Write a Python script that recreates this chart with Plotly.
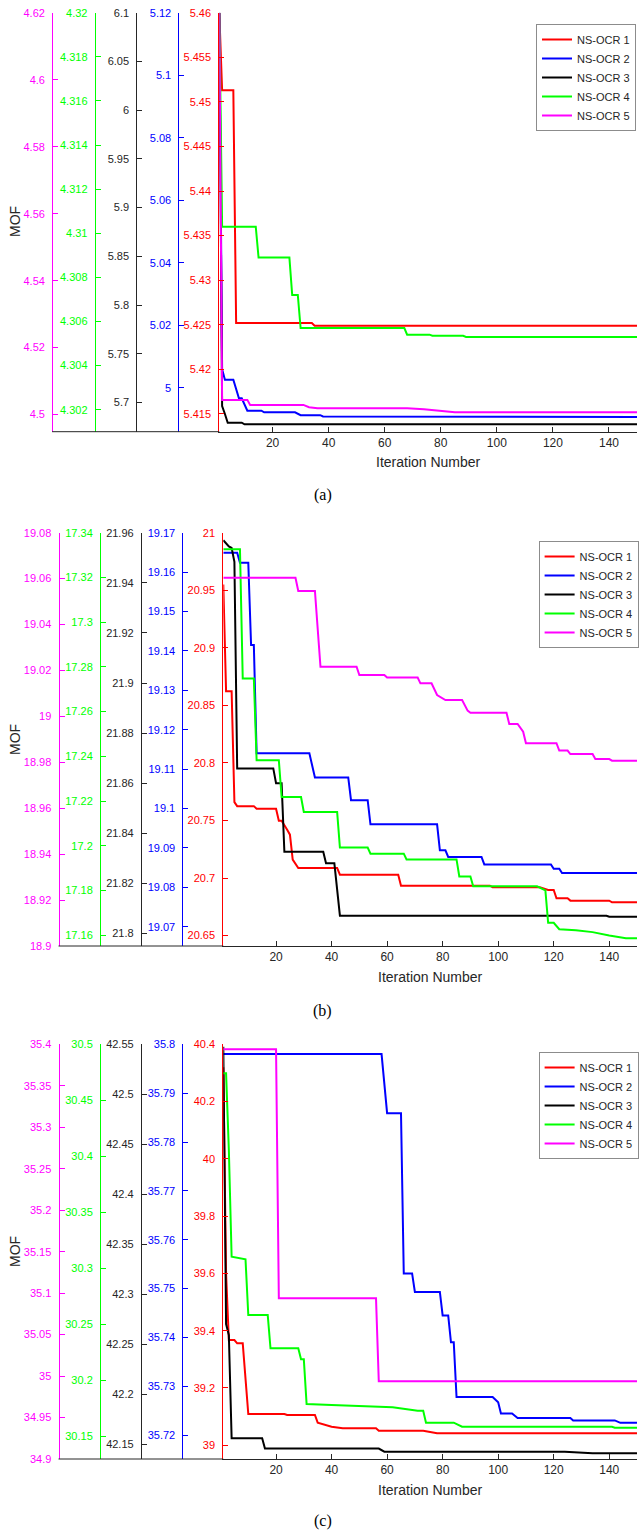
import plotly.graph_objects as go

W, H = 639, 1535

SERIES = ["NS-OCR 1", "NS-OCR 2", "NS-OCR 3", "NS-OCR 4", "NS-OCR 5"]
COLORS = ["#FF0000", "#0000FF", "#000000", "#00FF00", "#FF00FF"]
TEXT_COLORS = ["#FF0000", "#0000FF", "#262626", "#00FF00", "#FF00FF"]
X_TICKS = [20, 40, 60, 80, 100, 120, 140]
CAPTIONS = ["(a)", "(b)", "(c)"]

# ---------------- Panel (a) ----------------
a_red_x = [1, 2, 6, 7, 34, 35, 150]
a_red_y = [5.46, 5.4513, 5.4513, 5.4252, 5.4252, 5.4249, 5.4249]
a_blue_x = [1, 2, 3, 6, 8, 9, 11, 16, 17, 28, 30, 37, 38, 80, 81, 150]
a_blue_y = [5.12, 5.006, 5.0026, 5.0026, 4.9967, 4.9967, 4.9927, 4.9927, 4.9922, 4.9922,
            4.9913, 4.9913, 4.9909, 4.9909, 4.9907, 4.9907]
a_black_x = [1, 2, 3, 4, 9, 10, 150]
a_black_y = [6.1, 5.6964, 5.6882, 5.6792, 5.6792, 5.6776, 5.6776]
a_green_x = [1, 2, 14, 15, 26, 27, 29, 30, 67, 68, 76, 77, 88, 89, 150]
a_green_y = [4.32, 4.3103, 4.3103, 4.3089, 4.3089, 4.3072, 4.3072, 4.3057, 4.3057, 4.3054,
             4.3054, 4.30535, 4.30535, 4.3053, 4.3053]
a_magenta_x = [1, 2, 11, 12, 31, 33, 36, 68, 74, 80, 85, 150]
a_magenta_y = [4.62, 4.5044, 4.5044, 4.5029, 4.5029, 4.5022, 4.5019, 4.5019, 4.5016, 4.5011,
               4.5007, 4.5007]

a_red_ticks = [5.415, 5.42, 5.425, 5.43, 5.435, 5.44, 5.445, 5.45, 5.455, 5.46]
a_blue_ticks = [5.0, 5.02, 5.04, 5.06, 5.08, 5.1, 5.12]
a_black_ticks = [5.7, 5.75, 5.8, 5.85, 5.9, 5.95, 6.0, 6.05, 6.1]
a_green_ticks = [4.302, 4.304, 4.306, 4.308, 4.31, 4.312, 4.314, 4.316, 4.318, 4.32]
a_magenta_ticks = [4.5, 4.52, 4.54, 4.56, 4.58, 4.6, 4.62]

# ---------------- Panel (b) ----------------
b_red_x = [1, 2, 4, 5, 6, 12, 13, 20, 21, 22, 24, 25, 26, 28, 42, 43, 64, 65, 97, 98,
           115, 118, 120, 121, 125, 126, 140, 141, 150]
b_red_y = [20.955, 20.8622, 20.8622, 20.766, 20.7625, 20.7625, 20.7603, 20.7603, 20.7498,
           20.7498, 20.7420, 20.7377, 20.7160, 20.7088, 20.7088, 20.7029, 20.7029, 20.6934,
           20.6934, 20.6920, 20.6920, 20.6896, 20.6896, 20.6824, 20.6824, 20.6804, 20.6804,
           20.6790, 20.6790]
b_blue_x = [1, 6, 7, 10, 11, 12, 13, 32, 34, 46, 47, 53, 54, 78, 79, 81, 82, 94, 95, 119,
            120, 122, 123, 150]
b_blue_y = [19.1649, 19.1649, 19.1624, 19.1624, 19.1415, 19.1415, 19.1140, 19.1140, 19.1079,
            19.1079, 19.1021, 19.1021, 19.0960, 19.0960, 19.0894, 19.0894, 19.0877, 19.0877,
            19.0858, 19.0858, 19.0847, 19.0847, 19.0836, 19.0836]
b_black_x = [1, 3, 4, 5, 6, 19, 20, 22, 23, 37, 38, 41, 43, 139, 140, 150]
b_black_y = [21.957, 21.9545, 21.9539, 21.9484, 21.8659, 21.8659, 21.8600, 21.8600, 21.8326,
             21.8326, 21.8280, 21.8280, 21.8071, 21.8071, 21.8067, 21.8067]
b_green_x = [1, 7, 8, 12, 13, 21, 22, 29, 30, 42, 43, 53, 54, 66, 67, 85, 86, 90, 91, 114,
             117, 118, 120, 122, 128, 134, 140, 146, 150]
b_green_y = [17.3326, 17.3326, 17.2748, 17.2748, 17.2383, 17.2383, 17.2218, 17.2218, 17.2151,
             17.2151, 17.1992, 17.1992, 17.1965, 17.1965, 17.1939, 17.1939, 17.1863, 17.1863,
             17.1819, 17.1819, 17.1801, 17.1656, 17.1656, 17.1627, 17.1622, 17.1614, 17.1599,
             17.1587, 17.1587]
b_magenta_x = [1, 27, 28, 34, 36, 49, 50, 59, 60, 71, 72, 76, 78, 81, 87, 89, 90, 103, 104,
               107, 109, 110, 121, 122, 125, 126, 134, 135, 140, 141, 150]
b_magenta_y = [19.0604, 19.0604, 19.0546, 19.0546, 19.0216, 19.0216, 19.0180, 19.0180, 19.0169,
               19.0169, 19.0144, 19.0144, 19.0093, 19.0071, 19.0071, 19.0025, 19.0016, 19.0016,
               18.9967, 18.9967, 18.9933, 18.9883, 18.9883, 18.9851, 18.9851, 18.9836, 18.9836,
               18.9814, 18.9814, 18.9807, 18.9807]

b_red_ticks = [20.65, 20.7, 20.75, 20.8, 20.85, 20.9, 20.95, 21.0]
b_blue_ticks = [19.07, 19.08, 19.09, 19.1, 19.11, 19.12, 19.13, 19.14, 19.15, 19.16, 19.17]
b_black_ticks = [21.8, 21.82, 21.84, 21.86, 21.88, 21.9, 21.92, 21.94, 21.96]
b_green_ticks = [17.16, 17.18, 17.2, 17.22, 17.24, 17.26, 17.28, 17.3, 17.32, 17.34]
b_magenta_ticks = [18.9, 18.92, 18.94, 18.96, 18.98, 19.0, 19.02, 19.04, 19.06, 19.08]

# ---------------- Panel (c) ----------------
c_red_x = [1, 2, 3, 5, 6, 8, 10, 23, 24, 34, 35, 40, 44, 56, 57, 73, 78, 150]
c_red_y = [40.32, 39.60, 39.3675, 39.3675, 39.356, 39.356, 39.1091, 39.1091, 39.1056, 39.1056,
           39.0788, 39.0648, 39.0592, 39.0592, 39.0508, 39.0508, 39.0417, 39.0417]
c_blue_x = [1, 58, 60, 65, 66, 69, 70, 79, 80, 82, 83, 84, 85, 98, 100, 101, 105, 107, 126,
            127, 142, 144, 150]
c_blue_y = [35.798, 35.798, 35.7859, 35.7859, 35.7531, 35.7531, 35.7493, 35.7493, 35.7445,
            35.7445, 35.7390, 35.7390, 35.7278, 35.7278, 35.7267, 35.7244, 35.7244, 35.7235,
            35.7235, 35.7230, 35.7230, 35.7225, 35.7225]
c_black_x = [1, 2, 3, 4, 15, 16, 57, 59, 124, 134, 150]
c_black_y = [42.5476, 42.27, 42.259, 42.1557, 42.1557, 42.1455, 42.1455, 42.1423, 42.1423,
             42.1407, 42.1407]
c_green_x = [1, 2, 3, 4, 9, 10, 17, 18, 28, 29, 30, 31, 40, 50, 62, 71, 73, 74, 84, 87, 141,
             142, 150]
c_green_y = [30.4741, 30.4741, 30.4057, 30.3105, 30.3082, 30.2585, 30.2585, 30.2288, 30.2288,
             30.2190, 30.2190, 30.1791, 30.1782, 30.1773, 30.1761, 30.1731, 30.1731, 30.1624,
             30.1624, 30.1588, 30.1588, 30.1579, 30.1579]
c_magenta_x = [1, 20, 21, 56, 57, 150]
c_magenta_y = [35.394, 35.394, 35.0938, 35.0938, 34.9937, 34.9937]

c_red_ticks = [39.0, 39.2, 39.4, 39.6, 39.8, 40.0, 40.2, 40.4]
c_blue_ticks = [35.72, 35.73, 35.74, 35.75, 35.76, 35.77, 35.78, 35.79, 35.8]
c_black_ticks = [42.15, 42.2, 42.25, 42.3, 42.35, 42.4, 42.45, 42.5, 42.55]
c_green_ticks = [30.15, 30.2, 30.25, 30.3, 30.35, 30.4, 30.45, 30.5]
c_magenta_ticks = [34.9, 34.95, 35.0, 35.05, 35.1, 35.15, 35.2, 35.25, 35.3, 35.35, 35.4]

# ---------------- layout per panel (pixel positions) ----------------
def px(v):
    return v / W

def py(v):
    return 1 - v / H

panels = [
    dict(xs=[a_red_x, a_blue_x, a_black_x, a_green_x, a_magenta_x],
         ys=[a_red_y, a_blue_y, a_black_y, a_green_y, a_magenta_y],
         ticks=[a_red_ticks, a_blue_ticks, a_black_ticks, a_green_ticks, a_magenta_ticks],
         ranges=[[5.413, 5.46001], [4.986, 5.12001], [5.67, 6.10001], [4.301, 4.320002],
                 [4.4949, 4.62001]],
         top=12.7, bottom=431.7, left=220.0,
         axpos=[None, 179.0, 136.7, 95.0, 52.3],
         legend=(537.7, 24.0), caption_y=495.0, mof_y=221.0),
    dict(xs=[b_red_x, b_blue_x, b_black_x, b_green_x, b_magenta_x],
         ys=[b_red_y, b_blue_y, b_black_y, b_green_y, b_magenta_y],
         ticks=[b_red_ticks, b_blue_ticks, b_black_ticks, b_green_ticks, b_magenta_ticks],
         ranges=[[20.641, 21.00001], [19.0651, 19.17001], [21.795, 21.96001],
                 [17.1552, 17.34001], [18.89999, 19.08001]],
         top=532.7, bottom=946.0, left=224.0,
         axpos=[None, 183.0, 141.3, 100.3, 58.7],
         legend=(540.3, 541.0), caption_y=1011.0, mof_y=739.0),
    dict(xs=[c_red_x, c_blue_x, c_black_x, c_green_x, c_magenta_x],
         ys=[c_red_y, c_blue_y, c_black_y, c_green_y, c_magenta_y],
         ticks=[c_red_ticks, c_blue_ticks, c_black_ticks, c_green_ticks, c_magenta_ticks],
         ranges=[[38.952, 40.40001], [35.7151, 35.80001], [42.135, 42.55001],
                 [30.13, 30.50001], [34.89999, 35.40001]],
         top=1044.3, bottom=1459.0, left=224.0,
         axpos=[None, 183.0, 141.3, 100.3, 58.7],
         legend=(540.3, 1052.0), caption_y=1521.0, mof_y=1251.0),
]

FONT = "Liberation Sans, Arial, sans-serif"
fig = go.Figure()
layout = {}
shapes = []
annotations = []

for pi, p in enumerate(panels):
    xa = "x" if pi == 0 else f"x{pi + 1}"
    leg = "legend" if pi == 0 else f"legend{pi + 1}"
    base = pi * 5 + 1
    main_y = "y" if base == 1 else f"y{base}"
    ydom = [py(p["bottom"]), py(p["top"])]
    xdom = [px(p["left"]), 1.0]
    for s in range(5):
        yn = base + s
        ya = "y" if yn == 1 else f"y{yn}"
        fig.add_trace(go.Scatter(
            x=p["xs"][s], y=p["ys"][s], mode="lines", name=SERIES[s],
            line=dict(color=COLORS[s], width=2), xaxis=xa, yaxis=ya, legend=leg,
        ))
        ticks = p["ticks"][s]
        ax = dict(
            range=p["ranges"][s], tickmode="array", tickvals=ticks,
            ticktext=[f"{v:g}" for v in ticks],
            ticks="inside", ticklen=5, tickcolor=COLORS[s] if s != 2 else "#262626",
            showline=True, linecolor=COLORS[s] if s != 2 else "#262626", linewidth=1,
            tickfont=dict(family=FONT, size=11, color=TEXT_COLORS[s]),
            showgrid=False, zeroline=False, automargin=False, ticklabelstandoff=5,
        )
        if s == 0:
            ax.update(domain=ydom, anchor=xa)
        else:
            ax.update(overlaying=main_y, anchor="free", position=px(p["axpos"][s]), side="left")
        layout["yaxis" if yn == 1 else f"yaxis{yn}"] = ax
    layout["xaxis" if pi == 0 else f"xaxis{pi + 1}"] = dict(
        domain=xdom, anchor=main_y, range=[1, 150], tickmode="array", tickvals=X_TICKS,
        ticks="inside", ticklen=5, tickcolor="#262626", showline=True, linecolor="#262626",
        linewidth=1, showgrid=False, zeroline=False, automargin=False,
        tickfont=dict(family=FONT, size=12, color="#262626"),
        title=dict(text="Iteration Number", font=dict(family=FONT, size=14, color="#262626"),
                   standoff=8),
    )
    lx, ly = p["legend"]
    layout[leg] = dict(
        x=px(lx), y=py(ly), xanchor="left", yanchor="top", bgcolor="white",
        bordercolor="#8c8c8c", borderwidth=1, font=dict(family=FONT, size=11, color="#262626"),
        tracegroupgap=0, itemwidth=30,
    )
    # bottom axis line continued under the extra y-axes
    shapes.append(dict(type="line", xref="paper", yref="paper",
                       x0=px(p["axpos"][4]), x1=xdom[0], y0=ydom[0], y1=ydom[0],
                       line=dict(color="#262626", width=1)))
    annotations.append(dict(text="MOF", xref="paper", yref="paper", x=px(15), y=py(p["mof_y"]),
                            xanchor="center", yanchor="middle",
                            textangle=-90, showarrow=False,
                            font=dict(family=FONT, size=14, color="#262626")))
    annotations.append(dict(text=CAPTIONS[pi], xref="paper", yref="paper", x=px(324),
                            y=py(p["caption_y"]), xanchor="center", yanchor="middle",
                            showarrow=False,
                            font=dict(family="Liberation Serif, Times New Roman, serif",
                                      size=16, color="#000000")))

fig.update_layout(**layout)
fig.update_layout(
    template="none", width=W, height=H, margin=dict(l=0, r=0, t=0, b=0),
    paper_bgcolor="white", plot_bgcolor="rgba(0,0,0,0)", showlegend=True,
    shapes=shapes, annotations=annotations, font=dict(family=FONT),
)
fig.write_html(
    "out.html",
    config={"displayModeBar": False},
    post_script="document.body.style.margin='0px';document.body.style.overflow='hidden';",
)
